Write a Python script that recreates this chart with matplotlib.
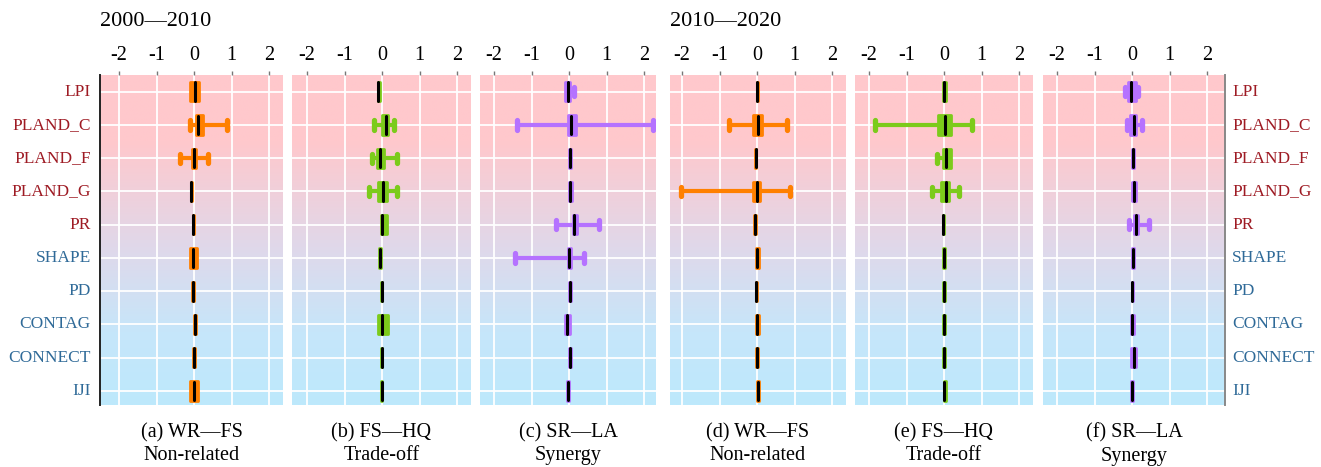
import numpy as np
import matplotlib
matplotlib.use("Agg")
import matplotlib.pyplot as plt
from matplotlib.patches import Rectangle
from matplotlib.colors import LinearSegmentedColormap

plt.rcParams['font.family'] = ['Liberation Serif', 'DejaVu Serif']

# ---------------- data ----------------
indices = ["LPI", "PLAND_C", "PLAND_F", "PLAND_G", "PR",
           "SHAPE", "PD", "CONTAG", "CONNECT", "IJI"]
label_groups = ["red"] * 5 + ["blue"] * 5

period_titles = ["2000\u20142010", "2010\u20142020"]
panel_titles = ["(a) WR\u2014FS\nNon-related", "(b) FS\u2014HQ\nTrade-off",
                "(c) SR\u2014LA\nSynergy", "(d) WR\u2014FS\nNon-related",
                "(e) FS\u2014HQ\nTrade-off", "(f) SR\u2014LA\nSynergy"]
x_ticks = [-2, -1, 0, 1, 2]

# each row: [whisker_low, q1, median, q3, whisker_high]
panel_a = [[-0.12, -0.12, 0.03, 0.14, 0.14],
           [-0.10, 0.05, 0.10, 0.23, 0.89],
           [-0.37, -0.06, 0.00, 0.05, 0.36],
           [-0.09, -0.09, -0.08, -0.06, -0.06],
           [-0.04, -0.04, -0.02, 0.01, 0.01],
           [-0.12, -0.12, -0.02, 0.09, 0.09],
           [-0.06, -0.06, -0.03, 0.01, 0.01],
           [-0.01, -0.01, 0.02, 0.04, 0.04],
           [-0.02, -0.02, 0.00, 0.02, 0.02],
           [-0.12, -0.12, 0.01, 0.11, 0.11]]

panel_b = [[-0.12, -0.12, -0.10, -0.05, -0.05],
           [-0.21, -0.01, 0.10, 0.17, 0.32],
           [-0.27, -0.14, -0.05, 0.05, 0.39],
           [-0.34, -0.12, 0.02, 0.14, 0.41],
           [-0.02, -0.02, 0.00, 0.12, 0.12],
           [-0.07, -0.07, -0.05, -0.03, -0.03],
           [-0.03, -0.03, -0.01, 0.01, 0.01],
           [-0.12, -0.12, 0.01, 0.17, 0.17],
           [-0.03, -0.03, -0.01, 0.01, 0.01],
           [-0.03, -0.03, -0.01, 0.01, 0.01]]

panel_c = [[-0.10, -0.10, -0.03, 0.03, 0.13],
           [-1.40, -0.04, 0.05, 0.18, 2.25],
           [0.01, 0.01, 0.03, 0.05, 0.05],
           [0.00, 0.00, 0.03, 0.07, 0.07],
           [-0.36, 0.10, 0.14, 0.20, 0.80],
           [-1.44, -0.04, -0.01, 0.04, 0.40],
           [0.01, 0.01, 0.03, 0.05, 0.05],
           [-0.11, -0.11, -0.05, 0.03, 0.03],
           [-0.01, -0.01, 0.02, 0.06, 0.06],
           [-0.05, -0.05, -0.03, -0.01, -0.01]]

panel_d = [[-0.01, -0.01, 0.01, 0.03, 0.03],
           [-0.74, -0.12, 0.02, 0.14, 0.81],
           [-0.06, -0.06, -0.04, -0.02, -0.02],
           [-2.04, -0.12, -0.01, 0.08, 0.88],
           [-0.07, -0.07, -0.05, -0.03, -0.03],
           [-0.02, -0.02, 0.01, 0.05, 0.05],
           [-0.04, -0.04, -0.02, 0.01, 0.01],
           [-0.02, -0.02, 0.01, 0.04, 0.04],
           [-0.02, -0.02, 0.00, 0.03, 0.03],
           [-0.01, -0.01, 0.02, 0.06, 0.06]]

panel_e = [[-0.03, -0.03, 0.00, 0.04, 0.04],
           [-1.84, -0.15, 0.03, 0.18, 0.74],
           [-0.20, -0.02, 0.05, 0.19, 0.19],
           [-0.33, -0.09, 0.05, 0.14, 0.40],
           [-0.04, -0.04, -0.02, 0.00, 0.00],
           [-0.02, -0.02, 0.00, 0.02, 0.02],
           [-0.02, -0.02, 0.00, 0.02, 0.02],
           [-0.02, -0.02, 0.00, 0.03, 0.03],
           [-0.02, -0.02, 0.00, 0.02, 0.02],
           [-0.01, -0.01, 0.01, 0.04, 0.04]]

panel_f = [[-0.20, -0.12, -0.03, 0.10, 0.15],
           [-0.14, -0.05, 0.04, 0.11, 0.26],
           [0.00, 0.00, 0.02, 0.04, 0.04],
           [0.00, 0.00, 0.04, 0.10, 0.10],
           [-0.08, 0.04, 0.11, 0.17, 0.44],
           [0.00, 0.00, 0.02, 0.04, 0.04],
           [-0.01, -0.01, 0.01, 0.03, 0.03],
           [-0.02, -0.02, 0.01, 0.05, 0.05],
           [-0.02, -0.02, 0.04, 0.10, 0.10],
           [-0.02, -0.02, 0.00, 0.02, 0.02]]

panels = [panel_a, panel_b, panel_c, panel_d, panel_e, panel_f]
panel_colors = ["#FF8000", "#7CCB1B", "#B572FF", "#FF8000", "#7CCB1B", "#B572FF"]

# ---------------- layout ----------------
W, H = 1321, 467
fig = plt.figure(figsize=(W / 100, H / 100), dpi=100)
px_bounds = [(100, 283), (292, 471), (480, 656), (670, 846), (855, 1033), (1043, 1225)]
zero_px = [194, 382, 569, 757, 944, 1132]
unit_px = 37.5
top_px, bot_px = 75, 405

y_top, y_bot = -0.5, 9.42
bg_cmap = LinearSegmentedColormap.from_list(
    "bg", [(0.0, "#FFC8CC"), (0.2, "#FFC8CC"), (0.52, "#E0D8EA"),
           (0.78, "#C6E6FA"), (1.0, "#BDE9FC")])
grad = np.linspace(0, 1, 256).reshape(-1, 1)

red_c, blue_c = "#9E1B24", "#2F6A98"

axes = []
for i, (l, r) in enumerate(px_bounds):
    ax = fig.add_axes([l / W, 1 - bot_px / H, (r - l) / W, (bot_px - top_px) / H])
    axes.append(ax)
    xmin = (l - zero_px[i]) / unit_px
    xmax = (r - zero_px[i]) / unit_px
    ax.set_xlim(xmin, xmax)
    ax.set_ylim(y_bot, y_top)
    ax.imshow(grad, cmap=bg_cmap, aspect="auto", extent=[xmin, xmax, y_bot, y_top],
              zorder=0, interpolation="bilinear")
    for t in x_ticks:
        ax.axvline(t, color="white", lw=1.3, zorder=1)
    for k in range(len(indices)):
        ax.axhline(k, color="white", lw=1.3, zorder=1)

    col = panel_colors[i]
    for k, (lo, q1, med, q3, hi) in enumerate(panels[i]):
        # whiskers
        if lo < q1:
            ax.plot([lo, q1], [k, k], color=col, lw=3, solid_capstyle="round", zorder=2)
            ax.plot([lo, lo], [k - 0.14, k + 0.14], color=col, lw=3.8,
                    solid_capstyle="round", zorder=2)
        if hi > q3:
            ax.plot([q3, hi], [k, k], color=col, lw=3, solid_capstyle="round", zorder=2)
            ax.plot([hi, hi], [k - 0.14, k + 0.14], color=col, lw=3.8,
                    solid_capstyle="round", zorder=2)
        # box
        ax.add_patch(Rectangle((q1, k - 0.29), q3 - q1, 0.58, facecolor=col,
                               edgecolor=col, lw=2, joinstyle="round", zorder=3))
        # median
        ax.plot([med, med], [k - 0.28, k + 0.28], color="black", lw=2.2,
                solid_capstyle="round", zorder=4)

    ax.xaxis.tick_top()
    ax.set_xticks(x_ticks)
    ax.set_xticklabels([str(t) for t in x_ticks])
    ax.tick_params(axis="x", which="both", direction="out", length=3, width=1,
                   color="#777777", labelsize=14.5, pad=4)
    ax.set_yticks([])
    for s in ax.spines.values():
        s.set_visible(False)

    cx = (l + r) / 2 / W
    fig.text(cx, 1 - 423 / H, panel_titles[i], ha="center", va="top",
             fontsize=14.5, linespacing=1.3)

axes[0].spines["left"].set_visible(True)
axes[0].spines["left"].set_color("#222222")
axes[0].spines["left"].set_linewidth(1.4)
axes[-1].spines["right"].set_visible(True)
axes[-1].spines["right"].set_color("#888888")
axes[-1].spines["right"].set_linewidth(1.4)

# row labels
for k, name in enumerate(indices):
    c = red_c if label_groups[k] == "red" else blue_c
    axes[0].text(-0.05, k, name, transform=axes[0].get_yaxis_transform(),
                 ha="right", va="center", fontsize=12.5, color=c)
    axes[-1].text(1.04, k, name, transform=axes[-1].get_yaxis_transform(),
                  ha="left", va="center", fontsize=12.5, color=c)

fig.text(100 / W, 1 - 21 / H, period_titles[0], ha="left", va="center", fontsize=16)
fig.text(670 / W, 1 - 21 / H, period_titles[1], ha="left", va="center", fontsize=16)

fig.savefig("out.png", dpi=100, facecolor="white")
